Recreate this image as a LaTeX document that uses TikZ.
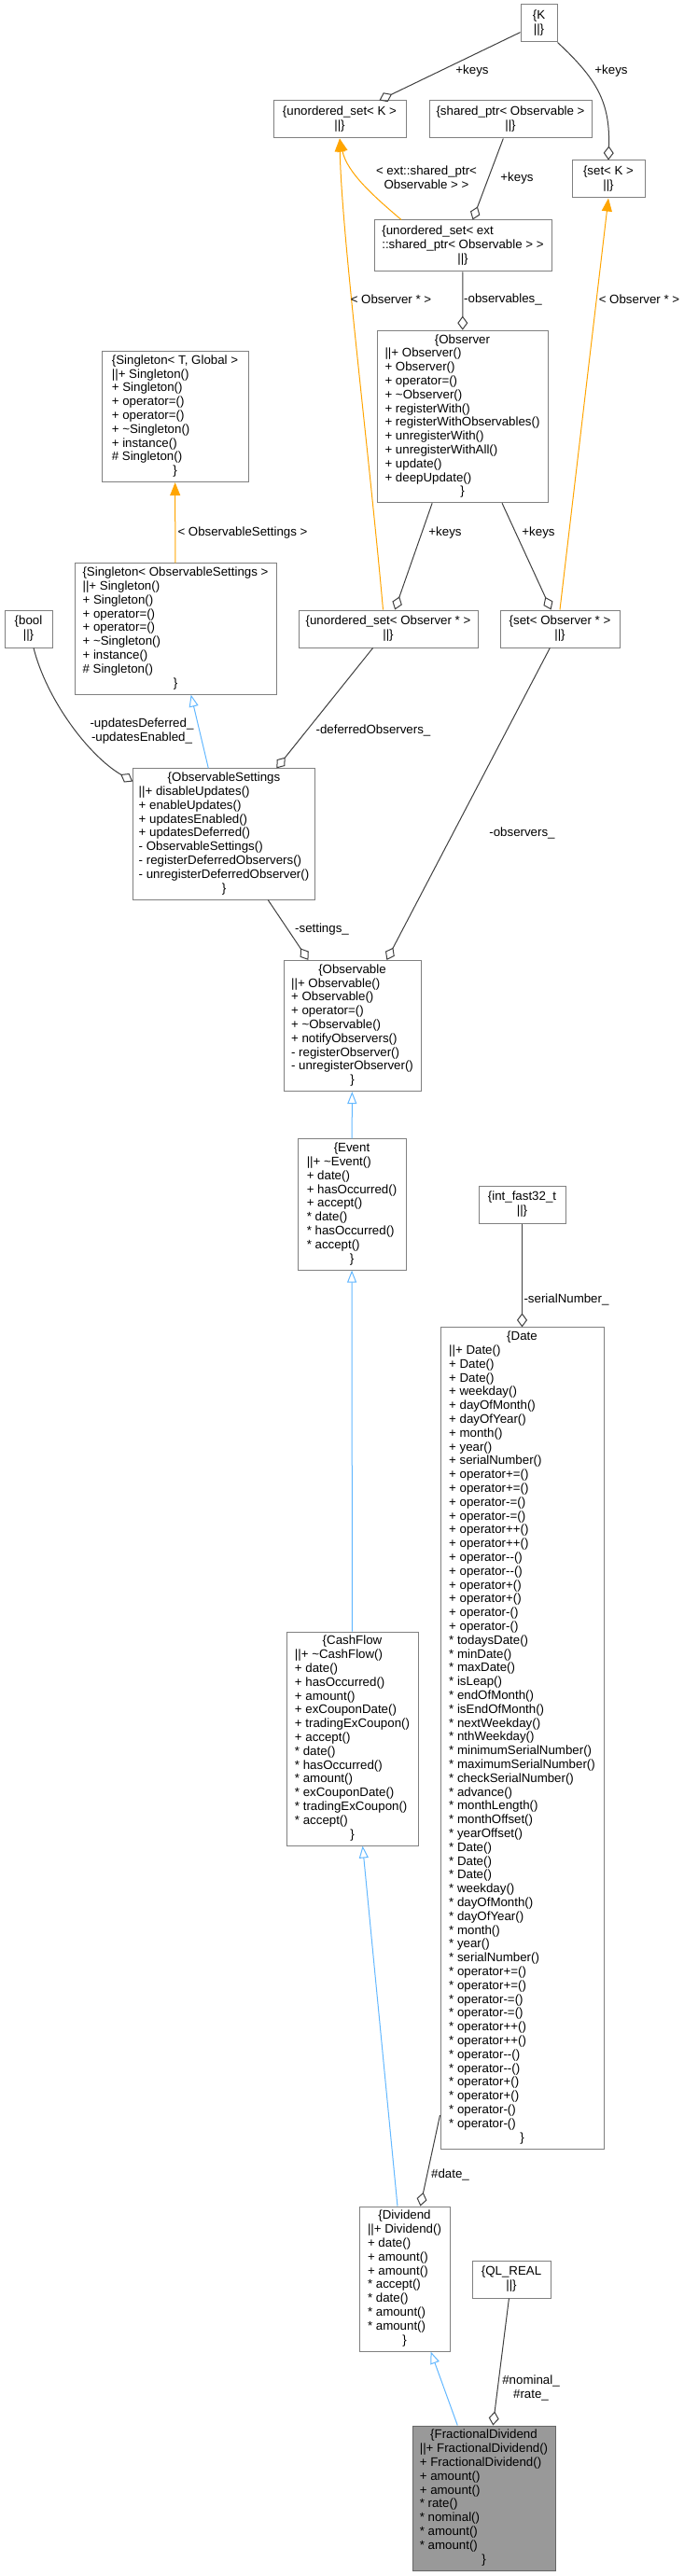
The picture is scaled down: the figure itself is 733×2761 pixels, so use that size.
\documentclass[tikz,border=0pt]{standalone}
\usepackage{fontspec}
\setmainfont{Liberation Sans}
\usepackage{xcolor}
\usepackage{tikz}
\usetikzlibrary{arrows.meta}

\definecolor{bordo}{HTML}{808080}
\definecolor{uso}{HTML}{404040}
\definecolor{eredit}{HTML}{63B8FF}
\definecolor{arancio}{HTML}{FFA500}
\definecolor{grigio}{HTML}{999999}

\newcommand{\mezzo}[1]{\multicolumn{1}{@{}c@{}}{#1}}

\begin{document}
\begin{tikzpicture}[x=1pt, y=-1pt,
    classe/.style={draw=bordo, fill=white, line width=1pt, inner xsep=6pt, inner ysep=3.5pt, minimum height=40pt, font=\fontsize{13.3}{14.8}\selectfont},
    focus/.style={classe, draw=uso!80, fill=grigio},
    etic/.style={font=\fontsize{13.3}{14.8}\selectfont, align=center, inner sep=0pt},
    agg/.style={draw=uso, line width=1pt, -{Diamond[open, length=15pt, width=11pt]}},
    eredita/.style={draw=eredit, line width=1pt, -{Triangle[open, length=13pt, width=10pt]}},
    modello/.style={draw=arancio, line width=1pt, -{Triangle[length=14pt, width=11pt]}}]

    % sfondo e dimensioni
    \path[fill=white, use as bounding box] (0,0) rectangle (733,2761);

    % le classi in alto
    \node[classe, minimum width=39] (K) at (577.5,25) {\begin{tabular}{@{}l@{}}\mezzo{\{K}\\ \mezzo{||\}}\end{tabular}};
    \node[classe, minimum width=142] (usetK) at (364,128) {\begin{tabular}{@{}l@{}}\mezzo{\{unordered\_set< K >}\\ \mezzo{||\}}\end{tabular}};
    \node[classe, minimum width=174] (shptr) at (547,128) {\begin{tabular}{@{}l@{}}\mezzo{\{shared\_ptr< Observable >}\\ \mezzo{||\}}\end{tabular}};
    \node[classe, minimum width=78] (setK) at (652,192) {\begin{tabular}{@{}l@{}}\mezzo{\{set< K >}\\ \mezzo{||\}}\end{tabular}};
    \node[classe, minimum width=190, minimum height=55] (usetExt) at (496,263.5) {\begin{tabular}{@{}l@{}}\{unordered\_set< ext\\ ::shared\_ptr< Observable > >\\ \mezzo{||\}}\end{tabular}};

    \node[classe, minimum width=183] (Observer) at (495.5,446.5) {\begin{tabular}{@{}l@{}}\mezzo{\{Observer}\\
        ||+ Observer()\\ + Observer()\\ + operator=()\\ + \textasciitilde{}Observer()\\ + registerWith()\\
        + registerWithObservables()\\ + unregisterWith()\\ + unregisterWithAll()\\ + update()\\ + deepUpdate()\\
        \mezzo{\}}\end{tabular}};
    \node[classe, minimum width=157] (singTG) at (187.5,446.5) {\begin{tabular}{@{}l@{}}\mezzo{\{Singleton< T, Global >}\\
        ||+ Singleton()\\ + Singleton()\\ + operator=()\\ + operator=()\\ + \textasciitilde{}Singleton()\\ + instance()\\
        \# Singleton()\\ \mezzo{\}}\end{tabular}};
    \node[classe, minimum width=216] (singOS) at (188,674) {\begin{tabular}{@{}l@{}}\mezzo{\{Singleton< ObservableSettings >}\\
        ||+ Singleton()\\ + Singleton()\\ + operator=()\\ + operator=()\\ + \textasciitilde{}Singleton()\\ + instance()\\
        \# Singleton()\\ \mezzo{\}}\end{tabular}};

    \node[classe, minimum width=51] (bool) at (30.5,674) {\begin{tabular}{@{}l@{}}\mezzo{\{bool}\\ \mezzo{||\}}\end{tabular}};
    \node[classe, minimum width=192] (usetObs) at (416,674) {\begin{tabular}{@{}l@{}}\mezzo{\{unordered\_set< Observer {*} >}\\ \mezzo{||\}}\end{tabular}};
    \node[classe, minimum width=128] (setObs) at (600,674) {\begin{tabular}{@{}l@{}}\mezzo{\{set< Observer {*} >}\\ \mezzo{||\}}\end{tabular}};

    \node[classe, minimum width=194] (obsSet) at (240,894) {\begin{tabular}{@{}l@{}}\mezzo{\{ObservableSettings}\\
        ||+ disableUpdates()\\ + enableUpdates()\\ + updatesEnabled()\\ + updatesDeferred()\\ - ObservableSettings()\\
        - registerDeferredObservers()\\ - unregisterDeferredObserver()\\ \mezzo{\}}\end{tabular}};

    % la catena verso il basso
    \node[classe, minimum width=147] (observable) at (377.5,1099.5) {\begin{tabular}{@{}l@{}}\mezzo{\{Observable}\\
        ||+ Observable()\\ + Observable()\\ + operator=()\\ + \textasciitilde{}Observable()\\ + notifyObservers()\\
        - registerObserver()\\ - unregisterObserver()\\ \mezzo{\}}\end{tabular}};
    \node[classe, minimum width=116] (event) at (377,1291) {\begin{tabular}{@{}l@{}}\mezzo{\{Event}\\
        ||+ \textasciitilde{}Event()\\ + date()\\ + hasOccurred()\\ + accept()\\ {*} date()\\ {*} hasOccurred()\\
        {*} accept()\\ \mezzo{\}}\end{tabular}};
    \node[classe, minimum width=93] (intfast) at (559.5,1291) {\begin{tabular}{@{}l@{}}\mezzo{\{int\_fast32\_t}\\ \mezzo{||\}}\end{tabular}};

    \node[classe, minimum width=175] (date) at (559.5,1863) {\begin{tabular}{@{}l@{}}\mezzo{\{Date}\\
        ||+ Date()\\ + Date()\\ + Date()\\ + weekday()\\ + dayOfMonth()\\ + dayOfYear()\\ + month()\\ + year()\\
        + serialNumber()\\ + operator+=()\\ + operator+=()\\ + operator-=()\\ + operator-=()\\ + operator++()\\
        + operator++()\\ + operator-{}-()\\ + operator-{}-()\\ + operator+()\\ + operator+()\\ + operator-()\\
        + operator-()\\ {*} todaysDate()\\ {*} minDate()\\ {*} maxDate()\\ {*} isLeap()\\ {*} endOfMonth()\\
        {*} isEndOfMonth()\\ {*} nextWeekday()\\ {*} nthWeekday()\\ {*} minimumSerialNumber()\\
        {*} maximumSerialNumber()\\ {*} checkSerialNumber()\\ {*} advance()\\ {*} monthLength()\\
        {*} monthOffset()\\ {*} yearOffset()\\ {*} Date()\\ {*} Date()\\ {*} Date()\\ {*} weekday()\\
        {*} dayOfMonth()\\ {*} dayOfYear()\\ {*} month()\\ {*} year()\\ {*} serialNumber()\\ {*} operator+=()\\
        {*} operator+=()\\ {*} operator-=()\\ {*} operator-=()\\ {*} operator++()\\ {*} operator++()\\
        {*} operator-{}-()\\ {*} operator-{}-()\\ {*} operator+()\\ {*} operator+()\\ {*} operator-()\\
        {*} operator-()\\ \mezzo{\}}\end{tabular}};
    \node[classe, minimum width=141] (cashflow) at (377.5,1863.5) {\begin{tabular}{@{}l@{}}\mezzo{\{CashFlow}\\
        ||+ \textasciitilde{}CashFlow()\\ + date()\\ + hasOccurred()\\ + amount()\\ + exCouponDate()\\
        + tradingExCoupon()\\ + accept()\\ {*} date()\\ {*} hasOccurred()\\ {*} amount()\\ {*} exCouponDate()\\
        {*} tradingExCoupon()\\ {*} accept()\\ \mezzo{\}}\end{tabular}};

    \node[classe, minimum width=97] (dividend) at (433.5,2442.5) {\begin{tabular}{@{}l@{}}\mezzo{\{Dividend}\\
        ||+ Dividend()\\ + date()\\ + amount()\\ + amount()\\ {*} accept()\\ {*} date()\\ {*} amount()\\
        {*} amount()\\ \mezzo{\}}\end{tabular}};
    \node[classe, minimum width=84] (qlreal) at (548,2443) {\begin{tabular}{@{}l@{}}\mezzo{\{QL\_REAL}\\ \mezzo{||\}}\end{tabular}};
    \node[focus, minimum width=153] (fracdiv) at (518.5,2677.5) {\begin{tabular}{@{}l@{}}\mezzo{\{FractionalDividend}\\
        ||+ FractionalDividend()\\ + FractionalDividend()\\ + amount()\\ + amount()\\ {*} rate()\\ {*} nominal()\\
        {*} amount()\\ {*} amount()\\ \mezzo{\}}\end{tabular}};

    % aggregazioni (grigio scuro)
    \draw[agg] (K) -- (usetK);
    \draw[agg] (K.south east) .. controls (640,85) and (654,110) .. (setK.north);
    \draw[agg] (shptr) -- (usetExt);
    \draw[agg] (usetExt) -- (Observer);
    \draw[agg] (Observer) -- (usetObs);
    \draw[agg] (Observer) -- (setObs);
    \draw[agg] (bool.-75) .. controls (50,750) and (95,810) .. (obsSet.150);
    \draw[agg] (usetObs) -- (obsSet);
    \draw[agg] (setObs) -- (observable);
    \draw[agg] (obsSet) -- (observable);
    \draw[agg] (intfast) -- (date);
    \draw[agg] (date) -- (dividend);
    \draw[agg] (qlreal) -- (fracdiv);

    % istanze di template (arancio)
    \draw[modello] (usetExt.157) .. controls (400,210) and (372,185) .. (usetK.south);
    \draw[modello] (usetObs.105) .. controls (395,480) and (366,250) .. (usetK.south);
    \draw[modello] (setObs.north) -- (setK.south);
    \draw[modello] (singOS) -- (singTG);

    % ereditarieta (azzurro)
    \draw[eredita] (obsSet) -- (singOS);
    \draw[eredita] (event) -- (observable);
    \draw[eredita] (cashflow) -- (event);
    \draw[eredita] (dividend) -- (cashflow);
    \draw[eredita] (fracdiv) -- (dividend);

    % etichette
    \node[etic] (l1) at (506,76) {+keys};
    \node[etic] (l2) at (655,76) {+keys};
    \node[etic] (l3) at (457,190.5) {< ext::shared\_ptr<\\ Observable > >};
    \node[etic] (l4) at (554,191) {+keys};
    \node[etic] (l5) at (419,321) {< Observer {*} >};
    \node[etic] (l6) at (539,321) {-observables\_};
    \node[etic] (l7) at (685,321) {< Observer {*} >};
    \node[etic] (l8) at (260,571) {< ObservableSettings >};
    \node[etic] (l9) at (477,571) {+keys};
    \node[etic] (l10) at (577,571) {+keys};
    \node[etic] (l11) at (152,783.5) {-updatesDeferred\_\\ -updatesEnabled\_};
    \node[etic] (l12) at (400,783) {-deferredObservers\_};
    \node[etic] (l13) at (559.5,893) {-observers\_};
    \node[etic] (l14) at (345,996) {-settings\_};
    \node[etic] (l15) at (607,1393) {-serialNumber\_};
    \node[etic] (l16) at (482.5,2331) {\#date\_};
    \node[etic] (l17) at (569,2559.5) {\#nominal\_\\ \#rate\_};

\end{tikzpicture}
\end{document}
